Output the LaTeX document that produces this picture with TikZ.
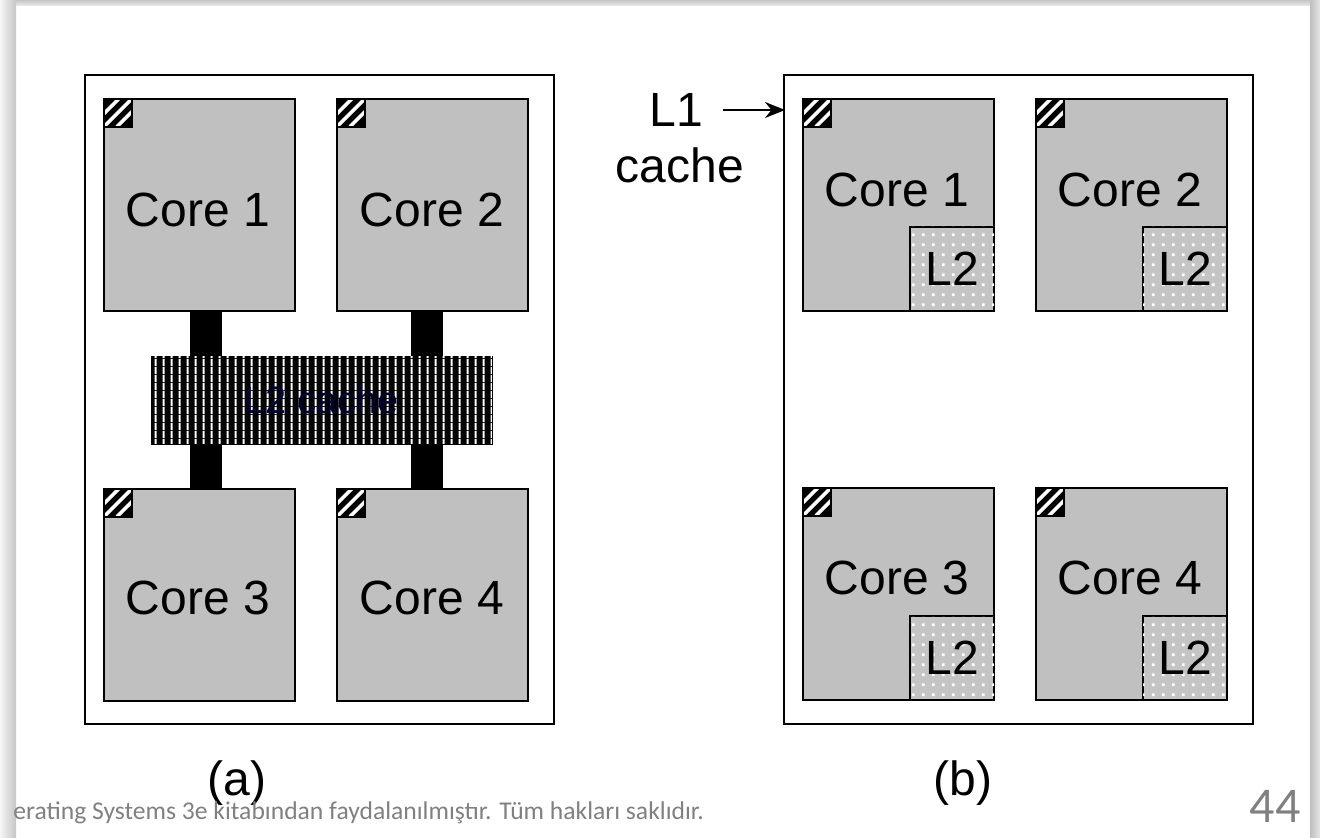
\documentclass[tikz,border=0pt]{standalone}
\usepackage{fontspec}
\setmainfont{Liberation Sans}
\newfontfamily\footfont{Carlito}
\usetikzlibrary{patterns,arrows.meta}
\definecolor{coregray}{RGB}{192,192,192}
\definecolor{ltwogray}{RGB}{196,196,196}
\definecolor{footgray}{RGB}{128,128,128}
\pgfdeclarepatternformonly{sparsedots}{\pgfqpoint{0pt}{0pt}}{\pgfqpoint{5pt}{5pt}}{\pgfqpoint{5pt}{5pt}}{%
  \pgfpathrectangle{\pgfqpoint{1pt}{1pt}}{\pgfqpoint{1.5pt}{1.5pt}}\pgfusepath{fill}}
\pgfdeclarepatternformonly{sparsevlines}{\pgfqpoint{0pt}{0pt}}{\pgfqpoint{4pt}{4pt}}{\pgfqpoint{4pt}{4pt}}{%
  \pgfpathrectangle{\pgfqpoint{1.5pt}{0pt}}{\pgfqpoint{1.1pt}{4pt}}\pgfusepath{fill}}
\begin{document}
\begin{tikzpicture}[x=0.5pt,y=-0.5pt,
  frame/.style={draw=black,line width=1pt},
  core/.style={draw=black,line width=1pt,fill=coregray,minimum width=95.5pt,minimum height=106pt,anchor=north west,inner sep=0pt},
  lonesq/.style={draw=black,line width=0.8pt,minimum size=14pt,anchor=north west,inner sep=0pt,
    path picture={\fill[black] (path picture bounding box.south west) rectangle (path picture bounding box.north east);
      \foreach \d in {-6.5,0,6.5}{\draw[white,line width=1.8pt] ([xshift=\d pt]path picture bounding box.south west) -- ++(14pt,14pt);}}},
  ltwosq/.style={draw=black,line width=1pt,fill=ltwogray,minimum size=42pt,anchor=south east,inner sep=0pt,
    postaction={pattern=sparsedots,pattern color=white}},
  lbl/.style={font=\fontsize{24}{28}\selectfont,inner sep=0pt},
  bus/.style={line width=16pt,black}
]
\useasboundingbox (0,0) rectangle (1320,838);
% slide edges
\shade[left color=gray!8,right color=gray!45] (0,0) rectangle (16,838);
\shade[top color=gray!45,bottom color=gray!15] (16,0) rectangle (1310,6);
\shade[left color=gray!50,right color=gray!20] (1310,0) rectangle (1320,838);

% ---------- (a)
\node[frame,minimum width=234.5pt,minimum height=324.5pt,anchor=north west,inner sep=0pt] (fa) at (84,74) {};
\node[core] (a1) at (103,98) {};
\node[core] (a2) at (336,98) {};
\node[core] (a3) at (103,488) {};
\node[core] (a4) at (336,488) {};
\node[draw=black,line width=0.8pt,fill=black,minimum width=170pt,minimum height=43.5pt,anchor=north west,inner sep=0pt,
  postaction={pattern=sparsevlines,pattern color=white}] (l2c) at (151,356) {};
\node[font=\fontsize{19}{22}\selectfont,text=black!80!blue] (l2t) at (l2c.center) {L2 cache};
\draw[bus] ([xshift=3pt]a1.south) -- ([xshift=3pt]a1.south |- l2c.north);
\draw[bus] ([xshift=3pt]a3.north) -- ([xshift=3pt]a3.north |- l2c.south);
\draw[bus] ([xshift=-3pt]a2.south) -- ([xshift=-3pt]a2.south |- l2c.north);
\draw[bus] ([xshift=-3pt]a4.north) -- ([xshift=-3pt]a4.north |- l2c.south);
\foreach \c in {a1,a2,a3,a4}{\node[lonesq] (h\c) at (\c.north west) {};}
\node[lbl] (ta1) at (198,210) {Core 1};
\node[lbl] (ta2) at (432,210) {Core 2};
\node[lbl] (ta3) at (198,598) {Core 3};
\node[lbl] (ta4) at (432,598) {Core 4};
\node[lbl,anchor=base] (capa) at (237,795) {(a)};

% ---------- (b)
\node[frame,minimum width=234.5pt,minimum height=324.5pt,anchor=north west,inner sep=0pt] (fb) at (783,74) {};
\node[core] (b1) at (802,98) {};
\node[core] (b2) at (1035,98) {};
\node[core] (b3) at (802,487) {};
\node[core] (b4) at (1035,487) {};
\foreach \c in {b1,b2,b3,b4}{
  \node[lonesq] (h\c) at (\c.north west) {};
  \node[ltwosq] (s\c) at (\c.south east) {};
  \node[lbl] (st\c) at (s\c.center) {L2};
}
\node[lbl] (tb1) at (897,190) {Core 1};
\node[lbl] (tb2) at (1130,190) {Core 2};
\node[lbl] (tb3) at (897,578) {Core 3};
\node[lbl] (tb4) at (1130,578) {Core 4};
\node[lbl,anchor=base] (capb) at (963,795) {(b)};

% L1 label
\node[lbl,anchor=base] (lone) at (676,127) {L1};
\node[lbl,anchor=base] (lcache) at (680,183) {cache};
\coordinate (lonept) at (785,110);
\draw[line width=1pt,-{Stealth[length=10pt,width=8pt]}] (723,110) -- (lonept);

% footer
\node[font=\footfont\fontsize{12.8}{15}\selectfont,text=footgray,anchor=base west,inner sep=0pt] (foot) at (13,819)
  {erating Systems 3e kitabından faydalanılmıştır. Tüm hakları saklıdır.};
\node[font=\footfont\fontsize{25}{30}\selectfont,text=footgray,anchor=base east,inner sep=0pt] (pnum) at (1301,822) {44};
\end{tikzpicture}
\end{document}
